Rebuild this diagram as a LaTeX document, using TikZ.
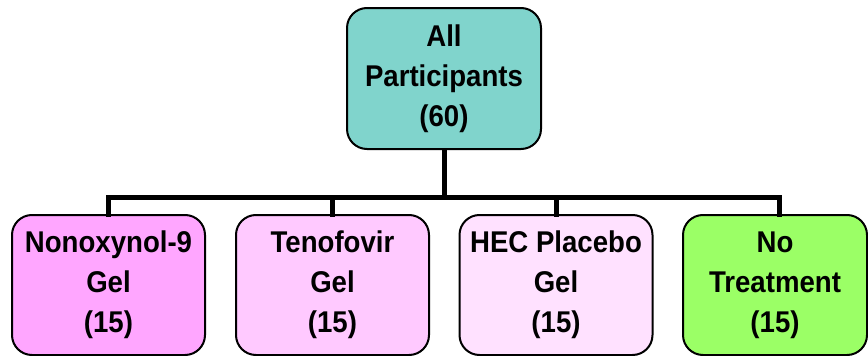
\documentclass[tikz,border=0pt]{standalone}
\usepackage{fontspec}
\setmainfont{Liberation Sans}[FakeStretch=0.92]
\definecolor{teal1}{RGB}{128,212,204}
\definecolor{pinkA}{RGB}{255,166,255}
\definecolor{pinkB}{RGB}{255,201,255}
\definecolor{pinkC}{RGB}{255,225,255}
\definecolor{greenA}{RGB}{155,255,102}
\tikzset{
  box/.style={draw=black, line width=2pt, rounded corners=20pt, inner sep=0pt,
    align=center, font=\fontsize{30}{40}\selectfont\bfseries},
  topbox/.style={box, fill=teal1, minimum width=194pt, minimum height=141pt},
  botbox/.style={box, minimum width=193pt, minimum height=140pt},
  conn/.style={line width=5pt, line join=miter, line cap=rect}
}
\begin{document}
\begin{tikzpicture}[x=1pt,y=-1pt]
\useasboundingbox[fill=white] (0,0) rectangle (868,356);
\node[topbox] (top) at (444,78.5) {All\\Participants\\(60)};
\node[botbox, fill=pinkA] (b1) at (108.5,285) {Nonoxynol-9\\Gel\\(15)};
\node[botbox, fill=pinkB] (b2) at (332.5,285) {Tenofovir\\Gel\\(15)};
\node[botbox, fill=pinkC] (b3) at (556,285) {HEC Placebo\\Gel\\(15)};
\node[botbox, fill=greenA, minimum width=184pt] (b4) at (775,285) {No\\Treatment\\(15)};
\coordinate (bus) at (0,197);
\draw[conn] (top.south) -- (top.south |- bus);
\draw[conn] (b1.north) -- (b1.north |- bus) -- ([xshift=4pt]b4.north |- bus) -- ([xshift=4pt]b4.north);
\draw[conn] (b2.north) -- (b2.north |- bus);
\draw[conn] (b3.north) -- (b3.north |- bus);
\end{tikzpicture}
\end{document}
